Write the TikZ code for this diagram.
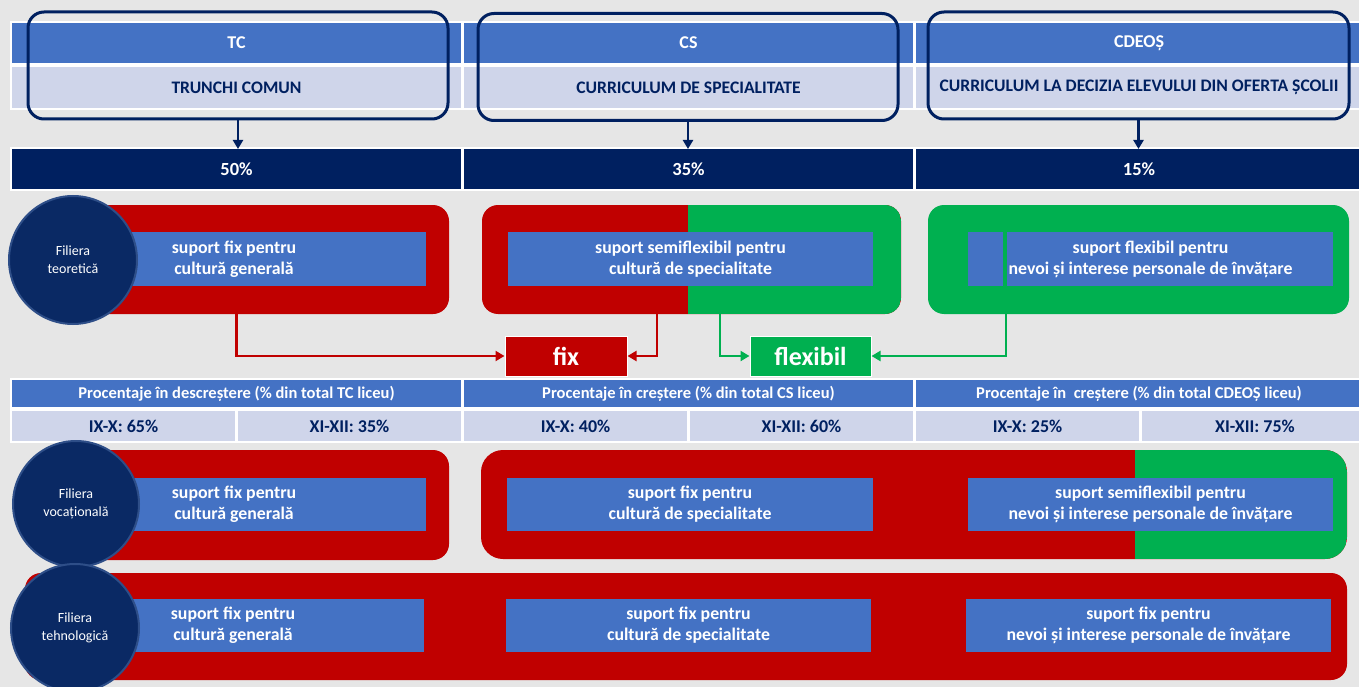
\documentclass[tikz,border=0pt]{standalone}
\usepackage{fontspec}
\setmainfont{Carlito}
\usetikzlibrary{arrows.meta,calc}
\definecolor{bg}{HTML}{E6E6E6}
\definecolor{hblue}{HTML}{4472C4}
\definecolor{lblue}{HTML}{CFD5EA}
\definecolor{navy}{HTML}{002060}
\definecolor{fred}{HTML}{C00000}
\definecolor{fgreen}{HTML}{00B050}
\definecolor{circ}{HTML}{0A2964}
\definecolor{circedge}{HTML}{2E4E88}
\tikzset{
  cellbase/.style={rectangle, inner sep=0pt, outer sep=0pt},
  hdr/.style={cellbase, fill=hblue, minimum height=40pt, text=white, font=\bfseries\fontsize{18}{20}\selectfont},
  sub/.style={cellbase, fill=lblue, minimum height=41pt, text=navy, font=\bfseries\fontsize{17.6}{20}\selectfont},
  pct/.style={cellbase, fill=navy, minimum height=40pt, text=white, font=\bfseries\fontsize{18.5}{20}\selectfont},
  th/.style={cellbase, fill=hblue, minimum height=27pt, text=white, font=\bfseries\fontsize{16.5}{18}\selectfont},
  td/.style={cellbase, fill=lblue, minimum height=30pt, text=navy, font=\bfseries\fontsize{18}{20}\selectfont},
  outl/.style={rectangle, draw=navy, line width=3pt, rounded corners=16pt, minimum width=420pt, minimum height=107pt, inner sep=0pt},
  darr/.style={navy, line width=2.5pt, -{Triangle[length=9pt,width=10pt]}},
  lane/.style={rectangle, rounded corners=16pt, inner sep=0pt, outer sep=0pt},
  redlane/.style={lane, fill=fred},
  greenlane/.style={lane, fill=fgreen},
  inbox/.style={rectangle, fill=hblue, inner sep=0pt, minimum height=54pt, text=white, align=center, font=\bfseries\fontsize{17.8}{21}\selectfont},
  filiera/.style={circle, fill=circ, draw=circedge, line width=2pt, inner sep=0pt, text=white, align=center, font=\fontsize{14}{18}\selectfont},
  tag/.style={rectangle, draw=white, line width=1pt, inner sep=0pt, minimum width=122pt, minimum height=40pt, text=white, font=\bfseries\fontsize{26}{30}\selectfont},
  redconn/.style={fred, line width=2.5pt, -{Triangle[length=9pt,width=10pt]}},
  grnconn/.style={fgreen, line width=2.5pt, -{Triangle[length=9pt,width=10pt]}}
}
\begin{document}
\begin{tikzpicture}[x=1pt,y=-1pt]
\fill[bg] (0,0) rectangle (1359,687);
\useasboundingbox (0,0) rectangle (1359,687);

% ---------- header ----------
\fill[white] (10,21) rectangle (1370,110);
\node[hdr, minimum width=449pt] (h1) at (236.5,43) {TC};
\node[hdr, minimum width=449pt] (h2) at (688.5,43) {CS};
\node[hdr, minimum width=446pt] (h3) at (1139,43) {CDEOȘ};
\node[sub, minimum width=449pt] (s1) at (236.5,87.5) {TRUNCHI COMUN};
\node[sub, minimum width=449pt] (s2) at (688.5,87.5) {CURRICULUM DE SPECIALITATE};
\node[sub, minimum width=446pt] (s3) at (1139,87.5) {CURRICULUM LA DECIZIA ELEVULUI DIN OFERTA ȘCOLII};

\node[outl] (o1) at (238,65.5) {};
\node[outl] (o2) at (688,67) {};
\node[outl, minimum width=421pt] (o3) at (1138.5,65.5) {};

\fill[white] (10,147) rectangle (1370,191);
\node[pct, minimum width=449pt] (p1) at (236.5,169) {50\%};
\node[pct, minimum width=449pt] (p2) at (688.5,169) {35\%};
\node[pct, minimum width=446pt] (p3) at (1139,169) {15\%};

\draw[darr] (o1.south) -- (o1.south |- p1.north);
\draw[darr] (o2.south) -- (o2.south |- p2.north);
\draw[darr] (o3.south) -- (o3.south |- p3.north);

% ---------- section 1 ----------
\node[redlane, minimum width=409pt, minimum height=109pt] (l11) at (244.5,259.5) {};
\node[redlane, minimum width=419pt, minimum height=109pt,
  path picture={\fill[fgreen, sharp corners] ([xshift=-3.5pt]path picture bounding box.north) rectangle (path picture bounding box.south east);}] (l12) at (691.5,259.5) {};
\node[greenlane, minimum width=421pt, minimum height=109pt] (l13) at (1138.5,259.5) {};

\node[inbox, minimum width=384pt] (b11) at (234,259) {suport fix pentru\\cultură generală};
\node[inbox, minimum width=365pt] (b12) at (690.5,259) {suport semiflexibil pentru\\cultură de specialitate};
\node[inbox, minimum width=365pt] (b13) at (1150.5,259) {suport flexibil pentru\\nevoi și interese personale de învățare};
\fill[fgreen] (1003,232) rectangle (1006.5,286);

\node[filiera, minimum size=128pt] (c1) at (73,260) {Filiera\\teoretică};

% ---------- fix / flexibil ----------
\node[tag, fill=fred] (fix) at (566,356) {fix};
\node[tag, fill=fgreen, minimum width=121pt] (flex) at (810.5,356) {flexibil};

\draw[redconn] (l11.south -| p1.south) |- (fix.west);
\draw[redconn] ([xshift=-34.5pt]l12.south) |- (fix.east);
\draw[grnconn] ([xshift=28.5pt]l12.south) |- (flex.west);
\draw[grnconn] ([xshift=-132.5pt]l13.south) |- (flex.east);

% ---------- percentage table ----------
\fill[white] (10,378) rectangle (1370,443);
\node[th, minimum width=449pt] (t1) at (236.5,393.5) {Procentaje în descreștere (\% din total TC liceu)};
\node[th, minimum width=449pt] (t2) at (688.5,393.5) {Procentaje în creștere (\% din total CS liceu)};
\node[th, minimum width=446pt] (t3) at (1139,393.5) {Procentaje în\ \ creștere (\% din total CDEOȘ liceu)};
\node[td, minimum width=223pt] (d1) at (123.5,426) {IX-X: 65\%};
\node[td, minimum width=223pt] (d2) at (349.5,426) {XI-XII: 35\%};
\node[td, minimum width=223pt] (d3) at (575.5,426) {IX-X: 40\%};
\node[td, minimum width=223pt] (d4) at (801.5,426) {XI-XII: 60\%};
\node[td, minimum width=223pt] (d5) at (1027.5,426) {IX-X: 25\%};
\node[td, minimum width=226pt] (d6) at (1255,426) {XI-XII: 75\%};

% ---------- section 2 ----------
\node[redlane, minimum width=409pt, minimum height=110pt] (l21) at (244.5,505) {};
\node[redlane, minimum width=866pt, minimum height=109pt, rounded corners=22pt,
  path picture={\fill[fgreen, sharp corners] ([xshift=-212pt]path picture bounding box.north east) rectangle (path picture bounding box.south east);}] (l22) at (914,504.5) {};
\node[inbox, minimum width=384pt, minimum height=53pt] (b21) at (234,504.5) {suport fix pentru\\cultură generală};
\node[inbox, minimum width=366pt, minimum height=53pt] (b22) at (690,504.5) {suport fix pentru\\cultură de specialitate};
\node[inbox, minimum width=365pt, minimum height=53pt] (b23) at (1150.5,504.5) {suport semiflexibil pentru\\nevoi și interese personale de învățare};
\node[filiera, minimum size=126pt] (c2) at (76,504) {Filiera\\vocațională};

% ---------- section 3 ----------
\node[redlane, minimum width=1322pt, minimum height=107pt] (l3) at (686,626.5) {};
\node[inbox, minimum width=382pt, minimum height=53pt] (b31) at (233,625.5) {suport fix pentru\\cultură generală};
\node[inbox, minimum width=365pt, minimum height=53pt] (b32) at (688.5,625.5) {suport fix pentru\\cultură de specialitate};
\node[inbox, minimum width=365pt, minimum height=53pt] (b33) at (1148.5,625.5) {suport fix pentru\\nevoi și interese personale de învățare};
\node[filiera, minimum size=128pt] (c3) at (75,628) {Filiera\\tehnologică};
\end{tikzpicture}
\end{document}
